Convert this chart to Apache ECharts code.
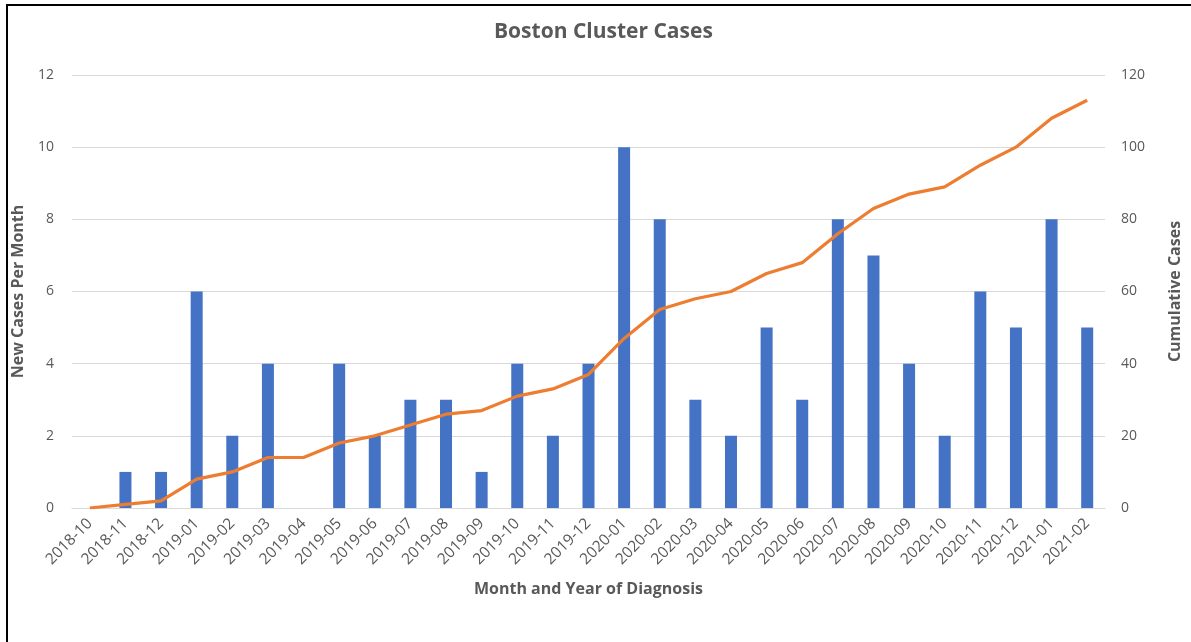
<!DOCTYPE html>
<html lang="en">
<head>
  <meta charset="UTF-8">
  <title>Boston Cluster Cases</title>
  <script src="https://cdn.jsdelivr.net/npm/echarts@6/dist/echarts.min.js"></script>
</head>
<body style="margin:0;width:1191px;height:642px;overflow:hidden;background:#fff;">
  <div style="position:absolute;left:6px;top:4px;width:1200px;height:700px;border-left:2px solid #000;border-top:2px solid #000;"></div>
  <div id="main" style="position:absolute;left:0;top:0;width:1191px;height:642px;"></div>
</body>
<script>
  var months = ['2018-10', '2018-11', '2018-12', '2019-01', '2019-02', '2019-03', '2019-04', '2019-05',
    '2019-06', '2019-07', '2019-08', '2019-09', '2019-10', '2019-11', '2019-12', '2020-01', '2020-02',
    '2020-03', '2020-04', '2020-05', '2020-06', '2020-07', '2020-08', '2020-09', '2020-10', '2020-11',
    '2020-12', '2021-01', '2021-02'];
  var newCases = [0, 1, 1, 6, 2, 4, 0, 4, 2, 3, 3, 1, 4, 2, 4, 10, 8, 3, 2, 5, 3, 8, 7, 4, 2, 6, 5, 8, 5];
  var cumulative = [0, 1, 2, 8, 10, 14, 14, 18, 20, 23, 26, 27, 31, 33, 37, 47, 55, 58, 60, 65, 68, 76, 83, 87, 89, 95, 100, 108, 113];

  var myChart = echarts.init(document.getElementById('main'));
  var font = "'Open Sans', sans-serif";
  var grey = '#595959';

  var option = {
    animation: false,
    backgroundColor: 'transparent',
    textStyle: { fontFamily: font },
    title: {
      text: 'Boston Cluster Cases',
      left: 489,
      top: 17,
      textStyle: { color: grey, fontSize: 21, fontWeight: 'bold', fontFamily: font }
    },
    grid: { left: 72, right: 74, top: 75, bottom: 134 },
    xAxis: {
      type: 'category',
      data: months,
      name: 'Month and Year of Diagnosis',
      nameLocation: 'middle',
      nameGap: 73,
      nameTextStyle: { color: grey, fontSize: 16, fontWeight: 'bold' },
      axisLine: { lineStyle: { color: '#d9d9d9' } },
      axisTick: { show: false },
      axisLabel: { rotate: 45, color: grey, fontSize: 15.5, interval: 0, margin: 13 }
    },
    yAxis: [{
      type: 'value',
      min: 0, max: 12, interval: 2,
      name: 'New Cases Per Month',
      nameLocation: 'middle',
      nameGap: 46,
      nameRotate: 90,
      nameTextStyle: { color: grey, fontSize: 16, fontWeight: 'bold' },
      axisLabel: { color: grey, fontSize: 14, margin: 18 },
      splitLine: { lineStyle: { color: '#d9d9d9' } }
    }, {
      type: 'value',
      min: 0, max: 120, interval: 20,
      name: 'Cumulative Cases',
      nameLocation: 'middle',
      nameGap: 62,
      nameRotate: 90,
      nameTextStyle: { color: grey, fontSize: 16, fontWeight: 'bold' },
      axisLabel: { color: grey, fontSize: 14, margin: 16 },
      splitLine: { show: false }
    }],
    series: [{
      name: 'New Cases',
      type: 'bar',
      data: newCases,
      barWidth: 12,
      itemStyle: { color: '#4472C4' }
    }, {
      name: 'Cumulative',
      type: 'line',
      yAxisIndex: 1,
      data: cumulative,
      symbol: 'none',
      lineStyle: { color: '#ED7D31', width: 3.2 },
      itemStyle: { color: '#ED7D31' }
    }]
  };

  myChart.setOption(option);
</script>
</html>
